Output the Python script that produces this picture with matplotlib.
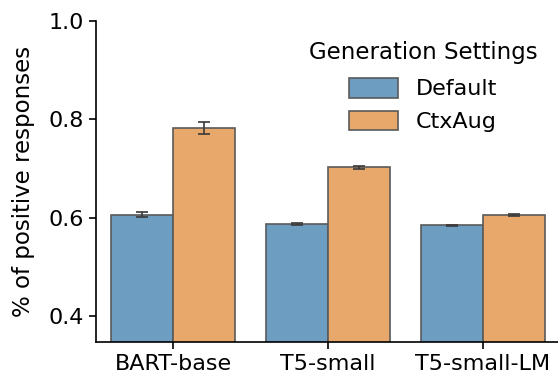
import matplotlib
matplotlib.use("Agg")
import matplotlib.pyplot as plt
import numpy as np

# data
models = ["BART-base", "T5-small", "T5-small-LM"]
settings = ["Default", "CtxAug"]
default_vals = [0.606, 0.588, 0.584]
default_err = [0.005, 0.002, 0.002]
ctxaug_vals = [0.782, 0.702, 0.605]
ctxaug_err = [0.012, 0.004, 0.002]

colors = ["#6d9ec1", "#e8a76b"]

fig = plt.figure(figsize=(5.58, 3.81), dpi=100)
ax = fig.add_axes([96 / 558, 39 / 381, 464 / 558, 321 / 381])

x = np.arange(len(models))
w = 0.4
for i, (vals, errs) in enumerate([(default_vals, default_err), (ctxaug_vals, ctxaug_err)]):
    ax.bar(x - w / 2 + i * w, vals, w, color=colors[i], edgecolor="#5a5a5a",
           linewidth=1.2, label=settings[i])
    ax.errorbar(x - w / 2 + i * w, vals, yerr=errs, fmt="none", ecolor="#3a3a3a",
                elinewidth=1.2, capsize=4, capthick=1.2)

ax.set_xlim(-0.5, 2.5)
ax.set_ylim(0.347, 1.0)
ax.set_xticks(x)
ax.set_xticklabels(models)
ax.set_yticks([0.4, 0.6, 0.8, 1.0])
ax.set_ylabel("% of positive responses", fontsize=16.5, labelpad=10)
ax.tick_params(labelsize=16, width=1.2, length=5)
ax.spines["top"].set_visible(False)
ax.spines["right"].set_visible(False)
for s in ["left", "bottom"]:
    ax.spines[s].set_linewidth(1.2)

leg = ax.legend(title="Generation Settings", fontsize=16, title_fontsize=16.5,
                frameon=False, loc="upper right", bbox_to_anchor=(0.995, 1.0),
                handlelength=2.2, handleheight=1.0, labelspacing=0.5,
                handletextpad=0.8)
leg._legend_box.sep = 10

fig.savefig("out.png", dpi=100)
